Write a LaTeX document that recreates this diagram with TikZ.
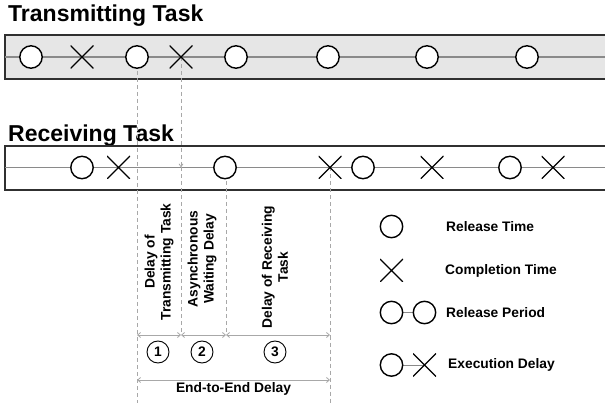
\documentclass[tikz,border=0pt]{standalone}
\usepackage{fontspec}
\setmainfont{Liberation Sans}
\usetikzlibrary{arrows.meta}
\definecolor{bandfill}{HTML}{E6E6E6}
\definecolor{bandedge}{HTML}{303030}
\definecolor{axisgray}{HTML}{8A8A8A}
\definecolor{guidegray}{HTML}{A8A8A8}
\tikzset{
  relmark/.style={circle, draw=black, line width=1.4pt, fill=white,
    minimum width=22.4pt, minimum height=21.6pt, inner sep=0pt},
  donemark/.style={rectangle, minimum size=23pt, inner sep=0pt,
    path picture={\draw[line width=1.4pt, black]
      (path picture bounding box.north west) -- (path picture bounding box.south east)
      (path picture bounding box.north east) -- (path picture bounding box.south west);}},
  band/.style={draw=bandedge, line width=1.6pt},
  axis/.style={draw=axisgray, line width=1.3pt},
  guide/.style={draw=guidegray, line width=0.8pt, dash pattern=on 4pt off 3pt},
  span/.style={draw=guidegray, line width=0.8pt,
    {Straight Barb[length=3pt,width=5pt]}-{Straight Barb[length=3pt,width=5pt]}},
  title/.style={font=\fontsize{23}{26}\selectfont\bfseries, anchor=base west, inner sep=0pt},
  lbl/.style={font=\fontsize{13.8}{16}\selectfont\bfseries, align=center, inner sep=0pt},
  nummark/.style={circle, draw=black, line width=0.9pt, minimum size=22pt, inner sep=0pt,
    font=\fontsize{13.8}{16}\selectfont\bfseries},
}
\begin{document}
\begin{tikzpicture}[x=1pt,y=-1pt]
\useasboundingbox (0,0) rectangle (605,403);

% titles
\node[title] (ttitle) at (8,22) {Transmitting Task};
\node[title] (rtitle) at (8,142) {Receiving Task};

% transmitting band
\fill[bandfill] (5,35) rectangle (612,79);
\draw[band] (612,35) -- (5,35) -- (5,79) -- (612,79);
\draw[axis] (5,57) -- (612,57);

% receiving band
\draw[band] (612,146) -- (5,146) -- (5,190) -- (612,190);
\draw[axis] (5,167.5) -- (612,167.5);

% guide coordinates
\coordinate (a0) at (137,335);
\coordinate (a1) at (181,335);
\coordinate (a2) at (226,335);
\coordinate (a3) at (330,335);
\coordinate (e0) at (137,380);
\coordinate (e1) at (330,380);
\coordinate (b0) at (137,403);
\coordinate (b1) at (330,403);
\coordinate (hit) at (181,167.5);

% dashed guides (drawn under the marks)
\draw[guide] (137,57) -- (b0);
\draw[guide, -{Straight Barb[length=3pt,width=4pt]}] (181,57) -- (hit);
\draw[guide] (hit) -- (a1);
\draw[guide] (226,167.5) -- (a2);
\draw[guide] (330,167.5) -- (b1);

% transmitting task events
\node[relmark] (t1) at (31,57) {};
\node[donemark] (t2) at (82,57) {};
\node[relmark] (t3) at (137,57) {};
\node[donemark] (t4) at (181,57) {};
\node[relmark] (t5) at (236,57) {};
\node[relmark] (t6) at (328,57) {};
\node[relmark] (t7) at (427,57) {};
\node[relmark] (t8) at (527,57) {};

% receiving task events
\node[relmark] (r1) at (82,167.5) {};
\node[donemark] (r2) at (118.5,167.5) {};
\node[relmark] (r3) at (225,167.5) {};
\node[donemark] (r4) at (330,167.5) {};
\node[relmark] (r5) at (363,167.5) {};
\node[donemark] (r6) at (432,167.5) {};
\node[relmark] (r7) at (510,167.5) {};
\node[donemark] (r8) at (553,167.5) {};

% delay labels
\node[lbl, rotate=90] (d1) at (159,262) {Delay of\\Transmitting Task};
\node[lbl, rotate=90] (d2) at (202,259) {Asynchronous\\Waiting Delay};
\node[lbl, rotate=90] (d3) at (275,267) {Delay of Receiving\\Task};

% delay spans
\draw[span] (a0) -- (a1);
\draw[span] (a1) -- (a2);
\draw[span] (a2) -- (a3);
\draw[span] (e0) -- (e1);

\node[nummark] (n1) at (158,352) {1};
\node[nummark] (n2) at (202,352) {2};
\node[nummark] (n3) at (275,352) {3};
\node[lbl] (e2e) at (233.5,389) {End-to-End Delay};

% legend
\node[lbl, anchor=west] (lt1) at (446,226.5) {Release Time};
\node[lbl, anchor=west] (lt2) at (445,270.5) {Completion Time};
\node[lbl, anchor=west] (lt3) at (446,312.5) {Release Period};
\node[lbl, anchor=west] (lt4) at (448,365) {Execution Delay};
\coordinate (lg3a) at (391.5,312.5);
\coordinate (lg3b) at (424.5,312.5);
\coordinate (lg4a) at (391.5,365);
\coordinate (lg4b) at (424.5,365);
\draw[axis, line width=1pt] (lg3a) -- (lg3b);
\draw[axis, line width=1pt] (lg4a) -- (lg4b);
\node[relmark] (lg1) at (391.5,226.5) {};
\node[donemark] (lg2) at (391.5,270.5) {};
\node[relmark] (lg3l) at (lg3a) {};
\node[relmark] (lg3r) at (lg3b) {};
\node[relmark] (lg4l) at (lg4a) {};
\node[donemark] (lg4r) at (lg4b) {};
\end{tikzpicture}
\end{document}
